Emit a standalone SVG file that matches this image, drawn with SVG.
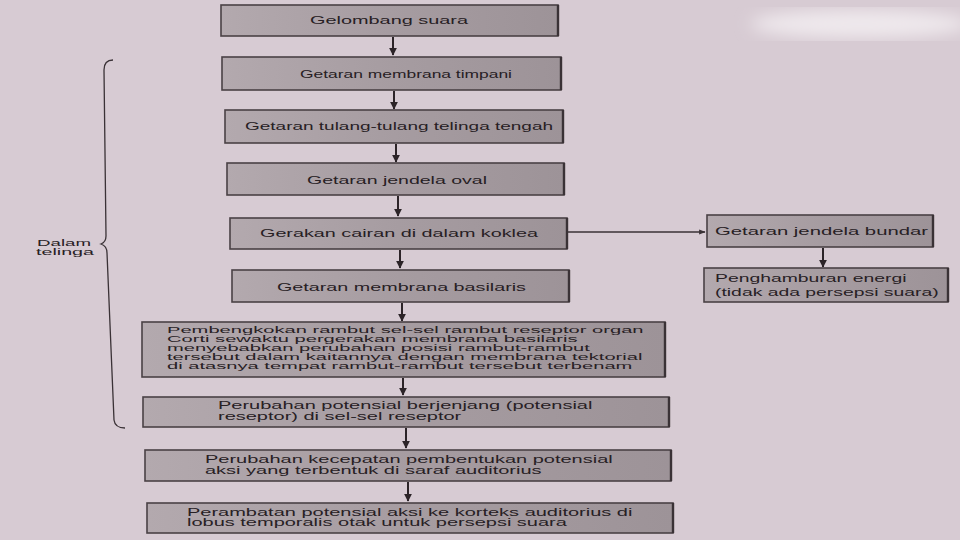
<svg xmlns="http://www.w3.org/2000/svg" width="960" height="540" viewBox="0 0 960 540">
<defs>
<style>
.box{fill:url(#bg);stroke:#4a4145;stroke-width:1.6}
.edge{stroke:#3a3236;stroke-width:2.4}
.t{font-family:"Liberation Sans",Arial,sans-serif;font-size:11px;fill:#272024}
.s{font-size:10px}
.s7{font-size:9.5px}
.conn{stroke:#2c2428;stroke-width:2;fill:none}
.thin{stroke:#3a3236;stroke-width:1.3;fill:none}
</style>
<linearGradient id="bg" x1="0" y1="0" x2="1" y2="0">
<stop offset="0" stop-color="#b3a9ae"/>
<stop offset="0.5" stop-color="#a69ca1"/>
<stop offset="1" stop-color="#9d9398"/>
</linearGradient>
<marker id="ah" viewBox="0 0 10 10" refX="9" refY="5" markerWidth="4" markerHeight="4" orient="auto" markerUnits="strokeWidth">
<path d="M0,0 L10,5 L0,10 Z" fill="#2c2428"/>
</marker>
<marker id="ah2" viewBox="0 0 10 10" refX="9" refY="5" markerWidth="7" markerHeight="5" orient="auto" markerUnits="strokeWidth">
<path d="M0,1 L10,5 L0,9 Z" fill="#3a3236"/>
</marker>
<filter id="blur"><feGaussianBlur stdDeviation="8"/></filter>
</defs>
<rect width="960" height="540" fill="#d7cbd3"/>
<ellipse cx="860" cy="24" rx="110" ry="14" fill="#efe9ed" filter="url(#blur)"/>

<g id="connectors">
<line class="conn" x1="393" y1="37" x2="393" y2="55" marker-end="url(#ah)"/>
<line class="conn" x1="394" y1="91" x2="394" y2="109" marker-end="url(#ah)"/>
<line class="conn" x1="396" y1="144" x2="396" y2="162" marker-end="url(#ah)"/>
<line class="conn" x1="398" y1="196" x2="398" y2="216" marker-end="url(#ah)"/>
<line class="conn" x1="400" y1="250" x2="400" y2="268" marker-end="url(#ah)"/>
<line class="conn" x1="402" y1="303" x2="402" y2="321" marker-end="url(#ah)"/>
<line class="conn" x1="403" y1="378" x2="403" y2="395" marker-end="url(#ah)"/>
<line class="conn" x1="406" y1="428" x2="406" y2="448" marker-end="url(#ah)"/>
<line class="conn" x1="408" y1="482" x2="408" y2="501" marker-end="url(#ah)"/>
<line class="conn" x1="823" y1="248" x2="823" y2="267" marker-end="url(#ah)"/>
<line class="thin" x1="568" y1="232" x2="705" y2="232" marker-end="url(#ah2)"/>
</g>

<g id="bracket">
<path class="thin" d="M113,60 Q104,60 104,70 L106,236 Q106,242 101,244 Q107,246 107,253 L114,420 Q115,428 125,428" stroke-width="1.6"/>
<text class="t" x="37" y="246" textLength="54" lengthAdjust="spacingAndGlyphs" style="font-size:9px">Dalam</text>
<text class="t" x="36" y="255" textLength="58" lengthAdjust="spacingAndGlyphs" style="font-size:9px">telinga</text>
</g>

<g id="n1">
<rect class="box" x="221" y="5" width="337" height="31"/>
<line class="edge" x1="558" y1="5" x2="558" y2="36"/>
<text class="t" x="310" y="24" textLength="158" lengthAdjust="spacingAndGlyphs">Gelombang suara</text>
</g>
<g id="n2">
<rect class="box" x="222" y="57" width="339" height="33"/>
<line class="edge" x1="561" y1="57" x2="561" y2="90"/>
<text class="t" x="300" y="78" textLength="212" lengthAdjust="spacingAndGlyphs">Getaran membrana timpani</text>
</g>
<g id="n3">
<rect class="box" x="225" y="110" width="338" height="33"/>
<line class="edge" x1="563" y1="110" x2="563" y2="143"/>
<text class="t" x="245" y="130" textLength="308" lengthAdjust="spacingAndGlyphs">Getaran tulang-tulang telinga tengah</text>
</g>
<g id="n4">
<rect class="box" x="227" y="163" width="337" height="32"/>
<line class="edge" x1="564" y1="163" x2="564" y2="195"/>
<text class="t" x="307" y="184" textLength="180" lengthAdjust="spacingAndGlyphs">Getaran jendela oval</text>
</g>
<g id="n5">
<rect class="box" x="230" y="218" width="337" height="31"/>
<line class="edge" x1="567" y1="218" x2="567" y2="249"/>
<text class="t" x="260" y="237" textLength="278" lengthAdjust="spacingAndGlyphs">Gerakan cairan di dalam koklea</text>
</g>
<g id="n6">
<rect class="box" x="232" y="270" width="337" height="32"/>
<line class="edge" x1="569" y1="270" x2="569" y2="302"/>
<text class="t" x="277" y="291" textLength="249" lengthAdjust="spacingAndGlyphs">Getaran membrana basilaris</text>
</g>
<g id="n7">
<rect class="box" x="142" y="322" width="523" height="55"/>
<line class="edge" x1="665" y1="322" x2="665" y2="377"/>
<g transform="translate(167,0) scale(2.12,1)">
<text class="t s7" x="0" y="333.5">Pembengkokan rambut sel-sel rambut reseptor organ</text>
<text class="t s7" x="0" y="342.5">Corti sewaktu pergerakan membrana basilaris</text>
<text class="t s7" x="0" y="351.5">menyebabkan perubahan posisi rambut-rambut</text>
<text class="t s7" x="0" y="360.5">tersebut dalam kaitannya dengan membrana tektorial</text>
<text class="t s7" x="0" y="369.5">di atasnya tempat rambut-rambut tersebut terbenam</text>
</g>
</g>
<g id="n8">
<rect class="box" x="143" y="397" width="526" height="30"/>
<line class="edge" x1="669" y1="397" x2="669" y2="427"/>
<g transform="translate(218,0) scale(2,1)">
<text class="t s" x="0" y="409.5">Perubahan potensial berjenjang (potensial</text>
<text class="t s" x="0" y="420">reseptor) di sel-sel reseptor</text>
</g>
</g>
<g id="n9">
<rect class="box" x="145" y="450" width="526" height="31"/>
<line class="edge" x1="671" y1="450" x2="671" y2="481"/>
<g transform="translate(205,0) scale(2,1)">
<text class="t s" x="0" y="463.5">Perubahan kecepatan pembentukan potensial</text>
<text class="t s" x="0" y="474">aksi yang terbentuk di saraf auditorius</text>
</g>
</g>
<g id="n10">
<rect class="box" x="147" y="503" width="526" height="30"/>
<line class="edge" x1="673" y1="503" x2="673" y2="533"/>
<g transform="translate(187,0) scale(2,1)">
<text class="t s" x="0" y="516">Perambatan potensial aksi ke korteks auditorius di</text>
<text class="t s" x="0" y="526.5">lobus temporalis otak untuk persepsi suara</text>
</g>
</g>
<g id="r1">
<rect class="box" x="707" y="215" width="226" height="32"/>
<line class="edge" x1="933" y1="215" x2="933" y2="247"/>
<text class="t" x="715" y="235" textLength="213" lengthAdjust="spacingAndGlyphs">Getaran jendela bundar</text>
</g>
<g id="r2">
<rect class="box" x="704" y="268" width="244" height="34"/>
<line class="edge" x1="948" y1="268" x2="948" y2="302"/>
<g transform="translate(715,0) scale(1.76,1)">
<text class="t" x="0" y="282">Penghamburan energi</text>
<text class="t" x="0" y="296">(tidak ada persepsi suara)</text>
</g>
</g>
</svg>
